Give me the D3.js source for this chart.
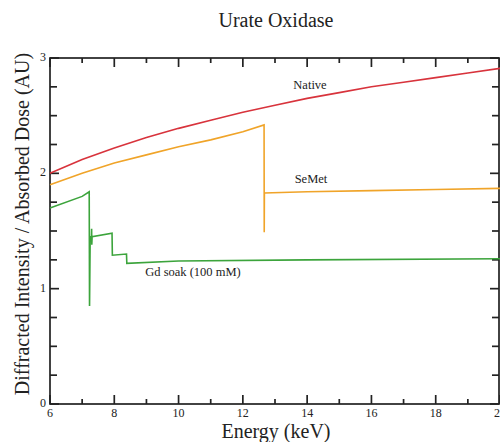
<!DOCTYPE html>
<html>
<head>
<meta charset="utf-8">
<script src="https://cdn.jsdelivr.net/npm/d3@7"></script>
<style>
  body { margin: 0; background: #fff; }
  text { font-family: "Liberation Serif", "DejaVu Serif", serif; }
</style>
</head>
<body>
<div id="chart"></div>
<script>
// ---------------- data ----------------
const nativeE = [6, 7, 8, 9, 10, 11, 12, 13, 14, 15, 16, 17, 18, 19, 20]
const nativeI = [2.00, 2.12, 2.22, 2.31, 2.39, 2.46, 2.53, 2.59, 2.65, 2.70, 2.75, 2.79, 2.83, 2.87, 2.91]

const semetE = [6, 7, 8, 9, 10, 11, 12, 12.66, 12.665, 12.67, 14, 16, 18, 20]
const semetI = [1.90, 2.00, 2.09, 2.16, 2.23, 2.29, 2.36, 2.42, 1.49, 1.83, 1.84, 1.85, 1.86, 1.87]

const gdE = [6, 7, 7.22, 7.23, 7.25, 7.29, 7.295, 7.30, 7.31, 7.93, 7.94, 8.38, 8.39, 10, 14, 20]
const gdI = [1.70, 1.80, 1.84, 0.85, 1.45, 1.45, 1.52, 1.38, 1.45, 1.48, 1.29, 1.30, 1.22, 1.24, 1.25, 1.26]

const xMajor = [6, 8, 10, 12, 14, 16, 18, 20]
const xMinor = [7, 9, 11, 13, 15, 17, 19]
const yMajor = [0, 1, 2, 3]
const yMinor = [0.25, 0.5, 0.75, 1.25, 1.5, 1.75, 2.25, 2.5, 2.75]

const series = [
  { name: "Native", e: nativeE, v: nativeI, color: "#d8333c", lx: 310, ly: 89 },
  { name: "SeMet", e: semetE, v: semetI, color: "#f0a429", lx: 311, ly: 183 },
  { name: "Gd soak (100 mM)", e: gdE, v: gdI, color: "#3ca43c", lx: 193, ly: 276 }
]

// ---------------- set-up ----------------
const W = 500, H = 442
const margin = { left: 50, top: 58, right: 0, bottom: 38 }

const svg = d3.select("#chart").append("svg")
  .attr("width", W).attr("height", H)

const x = d3.scaleLinear().domain([6, 20]).range([margin.left, W - margin.right])
const y = d3.scaleLinear().domain([0, 3]).range([H - margin.bottom, margin.top])

const x0 = x.range()[0], x1 = x.range()[1] - 1
const yB = y.range()[0], yT = y.range()[1]
const ink = "#222"

// ---------------- frame ----------------
svg.append("rect")
  .attr("x", x0).attr("y", yT)
  .attr("width", x1 - x0).attr("height", yB - yT)
  .attr("fill", "none").attr("stroke", ink).attr("stroke-width", 1.7)

// ---------------- ticks (inward, all four sides) ----------------
const tickG = svg.append("g").attr("stroke", ink).attr("stroke-width", 1.7)

function xTicks(vals, len) {
  tickG.selectAll(null).data(vals).enter().append("line")
    .attr("x1", d => x(d)).attr("x2", d => x(d))
    .attr("y1", yB).attr("y2", yB - len)
  tickG.selectAll(null).data(vals).enter().append("line")
    .attr("x1", d => x(d)).attr("x2", d => x(d))
    .attr("y1", yT).attr("y2", yT + len)
}
function yTicks(vals, len) {
  tickG.selectAll(null).data(vals).enter().append("line")
    .attr("y1", d => y(d)).attr("y2", d => y(d))
    .attr("x1", x0).attr("x2", x0 + len)
  tickG.selectAll(null).data(vals).enter().append("line")
    .attr("y1", d => y(d)).attr("y2", d => y(d))
    .attr("x1", x1).attr("x2", x1 - len)
}
xTicks(xMajor, 9)
xTicks(xMinor, 5)
yTicks(yMajor, 9)
yTicks(yMinor, 7)

// tick labels
svg.selectAll(null).data(xMajor).enter().append("text")
  .attr("x", d => x(d)).attr("y", yB + 13)
  .attr("text-anchor", "middle")
  .style("font-size", "12px").style("fill", ink)
  .text(d => d)

svg.selectAll(null).data(yMajor).enter().append("text")
  .attr("x", x0 - 4).attr("y", d => y(d) + 3)
  .attr("text-anchor", "end")
  .style("font-size", "12px").style("fill", ink)
  .text(d => d)

// ---------------- lines ----------------
const line = d3.line()
  .x(d => x(d[0]))
  .y(d => y(d[1]))

series.forEach(s => {
  const pts = s.e.map((e, i) => [e, s.v[i]])
  svg.append("path")
    .datum(pts)
    .attr("fill", "none")
    .attr("stroke", s.color)
    .attr("stroke-width", 1.6)
    .attr("d", line)
  svg.append("text")
    .attr("x", s.lx).attr("y", s.ly)
    .attr("text-anchor", "middle")
    .style("font-size", "12.5px")
    .style("fill", ink)
    .text(s.name)
})

// ---------------- titles ----------------
svg.append("text")
  .attr("x", 276).attr("y", 27)
  .attr("text-anchor", "middle")
  .style("font-size", "20px").style("fill", ink)
  .text("Urate Oxidase")

svg.append("text")
  .attr("x", 276).attr("y", 438)
  .attr("text-anchor", "middle")
  .style("font-size", "20px").style("fill", ink)
  .text("Energy (keV)")

svg.append("text")
  .attr("transform", "translate(29,224) rotate(-90)")
  .attr("text-anchor", "middle")
  .style("font-size", "20px").style("fill", ink)
  .text("Diffracted Intensity / Absorbed Dose (AU)")
</script>
</body>
</html>
